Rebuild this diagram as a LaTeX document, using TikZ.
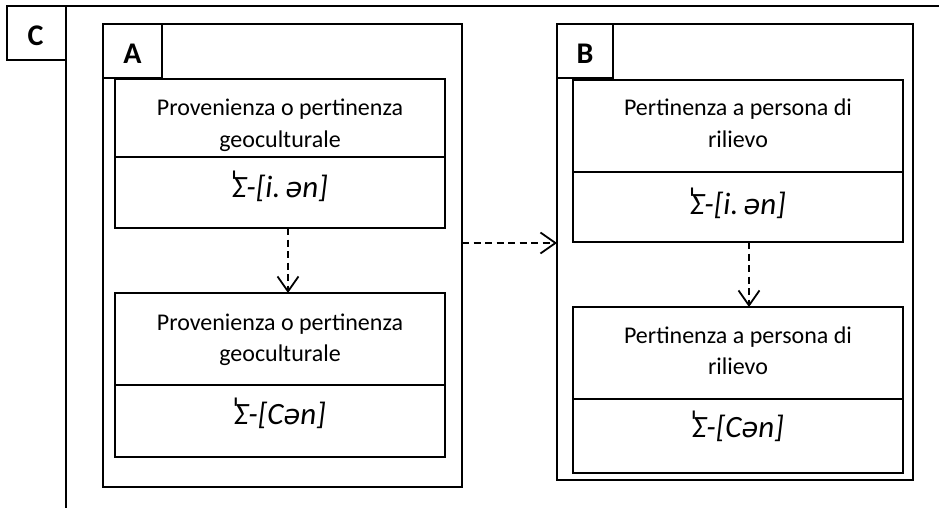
\documentclass[tikz,border=0pt]{standalone}
\usepackage{fontspec}
\setmainfont{Carlito}
\newfontfamily\ipafont{DejaVu Sans}
\newfontfamily\schwafont[Scale=0.88]{DejaVu Sans}
\usetikzlibrary{arrows.meta}

% stressed Sigma: the stress tick is overlaid on the top-left of the letter
\newcommand{\stressSig}{\rlap{\raisebox{0.08em}{\ipafont\itshape\kern-0.08em ˈ}}Σ}
\newcommand{\schwa}{{\schwafont\itshape ə}}

\begin{document}
\begin{tikzpicture}[x=1pt,y=-1pt,
  frame/.style={draw, line width=1.8pt, inner sep=0pt, outer sep=0pt, anchor=north west},
  cell/.style={draw, line width=1.5pt, inner sep=0pt, outer sep=0pt, anchor=north west},
  txt/.style={font=\fontsize{24}{28}\selectfont, anchor=base, inner sep=0pt},
  form/.style={font=\fontsize{31}{34}\selectfont\itshape, anchor=base, inner sep=0pt},
  lab/.style={font=\fontsize{30}{32}\selectfont\bfseries, inner sep=0pt},
  link/.style={line width=1.8pt, dash pattern=on 7pt off 4.5pt,
    -{Straight Barb[length=15pt,width=21pt,line width=1.8pt]}}
]
\useasboundingbox (0,0) rectangle (939,508);

% outer frame C
\node[frame, minimum width=59pt, minimum height=54pt] (cbox) at (7,6) {};
\node[lab] (clab) at ([xshift=-1pt,yshift=-3pt]cbox.center) {C};
\coordinate (ctop) at (939,6);
\coordinate (cbot) at (66,508);
\draw[line width=1.8pt] (cbox.north east) -- (ctop);
\draw[line width=1.8pt] (cbox.north east) -- (cbot);

% group A
\node[frame, minimum width=359pt, minimum height=463pt] (aout) at (103,24) {};
\node[frame, minimum width=59pt, minimum height=54pt] (abox) at (103,24) {};
\node[lab] (alab) at ([yshift=-3pt]abox.center) {A};

\node[cell, minimum width=330pt, minimum height=78pt] (a1t) at (115,79) {};
\node[cell, minimum width=330pt, minimum height=71pt] (a1b) at (115,157) {};
\node[txt] (a1l1) at ([yshift=-37pt]a1t.north) {Provenienza o pertinenza};
\node[txt] (a1l2) at ([yshift=-68pt]a1t.north) {geoculturale};
\node[form] (a1f) at ([yshift=-40pt]a1b.north) {\stressSig-[i.\,\schwa n]};

\node[cell, minimum width=330pt, minimum height=92pt] (a2t) at (115,293) {};
\node[cell, minimum width=330pt, minimum height=72pt] (a2b) at (115,385) {};
\node[txt] (a2l1) at ([yshift=-37pt]a2t.north) {Provenienza o pertinenza};
\node[txt] (a2l2) at ([yshift=-68pt]a2t.north) {geoculturale};
\node[form] (a2f) at ([yshift=-39pt]a2b.north) {\stressSig-[C\schwa n]};

% group B
\node[frame, minimum width=356pt, minimum height=456pt] (bout) at (557,24) {};
\node[frame, minimum width=56pt, minimum height=54pt] (bbox) at (557,24) {};
\node[lab] (blab) at ([yshift=-3pt]bbox.center) {B};

\node[cell, minimum width=330pt, minimum height=92pt] (b1t) at (573,80) {};
\node[cell, minimum width=330pt, minimum height=70pt] (b1b) at (573,172) {};
\node[txt] (b1l1) at ([yshift=-36pt]b1t.north) {Pertinenza a persona di};
\node[txt] (b1l2) at ([yshift=-67pt]b1t.north) {rilievo};
\node[form] (b1f) at ([yshift=-42pt]b1b.north) {\stressSig-[i.\,\schwa n]};

\node[cell, minimum width=330pt, minimum height=92pt] (b2t) at (573,307) {};
\node[cell, minimum width=330pt, minimum height=74pt] (b2b) at (573,399) {};
\node[txt] (b2l1) at ([yshift=-36pt]b2t.north) {Pertinenza a persona di};
\node[txt] (b2l2) at ([yshift=-67pt]b2t.north) {rilievo};
\node[form] (b2f) at ([yshift=-38pt]b2b.north) {\stressSig-[C\schwa n]};

% connectors
\draw[link] ([xshift=8pt]a1b.south) -- ([xshift=8pt]a2t.north);
\draw[link] ([xshift=11pt]b1b.south) -- ([xshift=11pt]b2t.north);
\coordinate (hy) at (0,243);
\draw[link] (aout.east |- hy) -- (bout.west |- hy);
\end{tikzpicture}
\end{document}
